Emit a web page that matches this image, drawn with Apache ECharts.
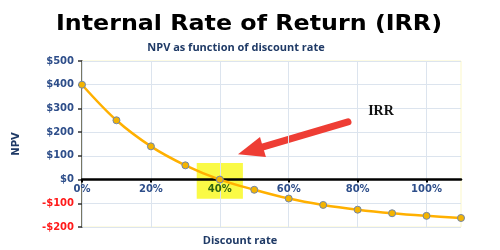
<!DOCTYPE html>
<html>
<head>
<meta charset="utf-8">
<script src="https://cdn.jsdelivr.net/npm/echarts@6/dist/echarts.min.js"></script>
<style>html,body{margin:0;padding:0;background:#fff;}#c{width:500px;height:250px;}</style>
</head>
<body>
<div id="c"></div>
<script>
// Data
const rates = [0, 10, 20, 30, 40, 50, 60, 70, 80, 90, 100, 110];
const npv = [400, 250, 140, 60, 0, -43, -80, -107, -127, -142, -153, -162];
const xTickValues = [0, 20, 40, 60, 80, 100];
const irrRate = 40;
const irrBoxX = [33.3, 46.7];
const irrBoxY = [70, -81];
const arrowFrom = [77.2, 243];
const arrowTo = [48.9, 122];

const blue = '#2E4E8A';
const dark = '#1F3A66';
const green = '#2F6512';

const gridTop = 61, gridBottom = 23, H = 250;
const yMin = -200, yMax = 500;
const plotH = H - gridTop - gridBottom;
const zeroOffset = plotH * (0 - yMin) / (yMax - yMin);

const chart = echarts.init(document.getElementById('c'), null, {renderer: 'canvas'});
chart.setOption({
  animation: false,
  backgroundColor: '#ffffff',
  grid: {left: 82, right: 39, top: gridTop, bottom: gridBottom, show: true, borderColor: '#FBF7C8', borderWidth: 1, backgroundColor: 'transparent'},
  xAxis: {
    type: 'value', min: 0, max: 110, interval: 10, z: 10,
    offset: -zeroOffset,
    axisLine: {onZero: false, lineStyle: {color: '#000', width: 2.5}},
    axisTick: {show: true, customValues: xTickValues, length: 3, lineStyle: {color: '#000', width: 2}},
    axisLabel: {
      customValues: xTickValues, margin: 5,
      fontFamily: 'DejaVu Sans', fontWeight: 'bold', fontSize: 10,
      color: v => (Number(v) === irrRate ? green : blue),
      formatter: v => v + '%'
    },
    splitLine: {show: true, lineStyle: {color: '#DCE4EE', width: 1}},
  },
  yAxis: {
    type: 'value', min: yMin, max: yMax, interval: 100,
    axisLine: {show: true, lineStyle: {color: '#4A4A38', width: 1.5}},
    axisTick: {show: true, length: 4, lineStyle: {color: '#333', width: 1.5}},
    axisLabel: {
      margin: 8, fontFamily: 'DejaVu Sans', fontWeight: 'bold', fontSize: 10,
      color: v => (Number(v) < 0 ? '#FF1A1A' : blue),
      formatter: v => v < 0 ? '-$' + Math.abs(v) : '$' + v
    },
    splitLine: {show: true, lineStyle: {color: '#DCE4EE', width: 1}},
    name: 'NPV', nameLocation: 'middle', nameGap: 61, nameRotate: 90,
    nameTextStyle: {fontFamily: 'DejaVu Sans', fontWeight: 'bold', fontSize: 10, color: dark}
  },
  series: [
    {
      type: 'custom', z: 1, silent: true,
      data: [[irrBoxX[0], irrBoxY[0], irrBoxX[1], irrBoxY[1]]],
      renderItem: (params, api) => {
        const p1 = api.coord([api.value(0), api.value(1)]);
        const p2 = api.coord([api.value(2), api.value(3)]);
        return {type: 'rect', shape: {x: p1[0], y: p1[1], width: p2[0] - p1[0], height: p2[1] - p1[1]},
          style: {fill: '#FAFA3C', opacity: 0.95}};
      }
    },
    {
      type: 'line', z: 12, smooth: 0.35,
      data: rates.map((r, i) => [r, npv[i]]),
      lineStyle: {color: '#FFB000', width: 2.5},
      symbol: 'circle', symbolSize: 7,
      itemStyle: {color: '#F4B400', borderColor: '#7186AA', borderWidth: 1}
    },
    {
      type: 'line', z: 13, data: [], silent: true,
      markLine: {
        silent: true, animation: false,
        symbol: ['none', 'triangle'], symbolSize: [21, 26],
        lineStyle: {color: '#EE3D34', width: 7, type: 'solid', cap: 'round'},
        itemStyle: {color: '#EE3D34'},
        label: {show: false},
        data: [[{coord: arrowFrom}, {coord: arrowTo}]]
      }
    }
  ],
  graphic: [
    {type: 'text', x: 249, y: 24, scaleX: 1.08, style: {text: 'Internal Rate of Return (IRR)', font: 'bold 22px "DejaVu Sans"', fill: '#000', textAlign: 'center', textVerticalAlign: 'middle'}},
    {type: 'text', x: 236, y: 48, style: {text: 'NPV as function of discount rate', font: 'bold 11px "Open Sans"', fill: dark, textAlign: 'center', textVerticalAlign: 'middle'}},
    {type: 'text', x: 240, y: 241, style: {text: 'Discount rate', font: 'bold 11px "Open Sans"', fill: dark, textAlign: 'center', textVerticalAlign: 'middle'}},
    {type: 'text', x: 381, y: 111, z: 20, style: {text: 'IRR', font: 'bold 14px "Liberation Serif"', fill: '#111', textAlign: 'center', textVerticalAlign: 'middle'}}
  ]
});
</script>
</body>
</html>
